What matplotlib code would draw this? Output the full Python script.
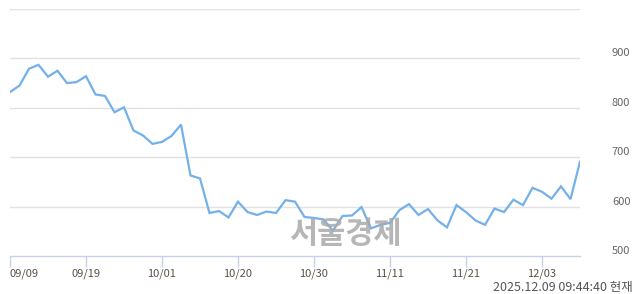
import matplotlib.pyplot as plt

# trading days 2025-09-09 .. 2025-12-09
dates = ["09/09", "09/10", "09/11", "09/12", "09/15", "09/16", "09/17", "09/18", "09/19",
         "09/22", "09/23", "09/24", "09/25", "09/26", "09/29", "09/30",
         "10/01", "10/02", "10/10", "10/13", "10/14", "10/15", "10/16", "10/17", "10/20",
         "10/21", "10/22", "10/23", "10/24", "10/27", "10/28", "10/29", "10/30", "10/31",
         "11/03", "11/04", "11/05", "11/06", "11/07", "11/10", "11/11", "11/12", "11/13",
         "11/14", "11/17", "11/18", "11/19", "11/20", "11/21", "11/24", "11/25", "11/26",
         "11/27", "11/28", "12/01", "12/02", "12/03", "12/04", "12/05", "12/08", "12/09"]
prices = [832, 845, 879, 887, 863, 875, 850, 852, 864, 827,
          824, 791, 801, 754, 744, 727, 731, 743, 766, 663,
          657, 587, 591, 578, 610, 589, 583, 590, 587, 613,
          610, 579, 577, 574, 551, 581, 582, 599, 556, 563,
          567, 593, 605, 583, 595, 572, 558, 603, 589, 572,
          563, 596, 589, 614, 603, 638, 630, 616, 641, 615, 691]
tick_dates = ["09/09", "09/19", "10/01", "10/20", "10/30", "11/11", "11/21", "12/03"]
y_ticks = [500, 600, 700, 800, 900]
grid_lines = [600, 700, 800, 900, 1000]
stamp = "2025.12.09 09:44:40 현재"
watermark = "서울경제"

plt.rcParams['font.family'] = ['Noto Sans CJK KR', 'DejaVu Sans']

fig = plt.figure(figsize=(6.4, 2.94), dpi=100)
ax = fig.add_axes([10 / 640, 1 - 256 / 294, 570 / 640, 247 / 294])

x = list(range(len(prices)))
for g in grid_lines:
    ax.axhline(g, color='#e2e2e2', lw=1, zorder=1)

ax.plot(x, prices, color='#74b0ea', lw=1.6, zorder=3, solid_joinstyle='miter')

ax.set_xlim(0, len(prices) - 1)
ax.set_ylim(500, 1000)

for s in ['top', 'left', 'right']:
    ax.spines[s].set_visible(False)
ax.spines['bottom'].set_color('#c5d2ea')
ax.spines['bottom'].set_linewidth(1)

ax.set_xticks([dates.index(d) for d in tick_dates])
ax.set_xticklabels(tick_dates)
ax.tick_params(axis='x', direction='out', length=8, width=1, color='#c5d2ea',
               labelsize=8, labelcolor='#5a5048', pad=1)
ax.get_xticklabels()[0].set_horizontalalignment('left')

ax.yaxis.tick_right()
ax.set_yticks(y_ticks)
ax.set_yticklabels([str(v) for v in y_ticks])
ax.tick_params(axis='y', length=0, labelsize=8, labelcolor='#666666', pad=23)
for lbl in ax.get_yticklabels():
    lbl.set_verticalalignment('bottom')

fig.text(345 / 640, 1 - 234 / 294, watermark, ha='center', va='center',
         fontsize=22, fontweight='bold', color='#aaaaaa', alpha=0.85, zorder=0)
fig.text(633 / 640, 1 - 287 / 294, stamp, ha='right', va='center',
         fontsize=9, color='#555555')

fig.savefig('out.png', dpi=100)
